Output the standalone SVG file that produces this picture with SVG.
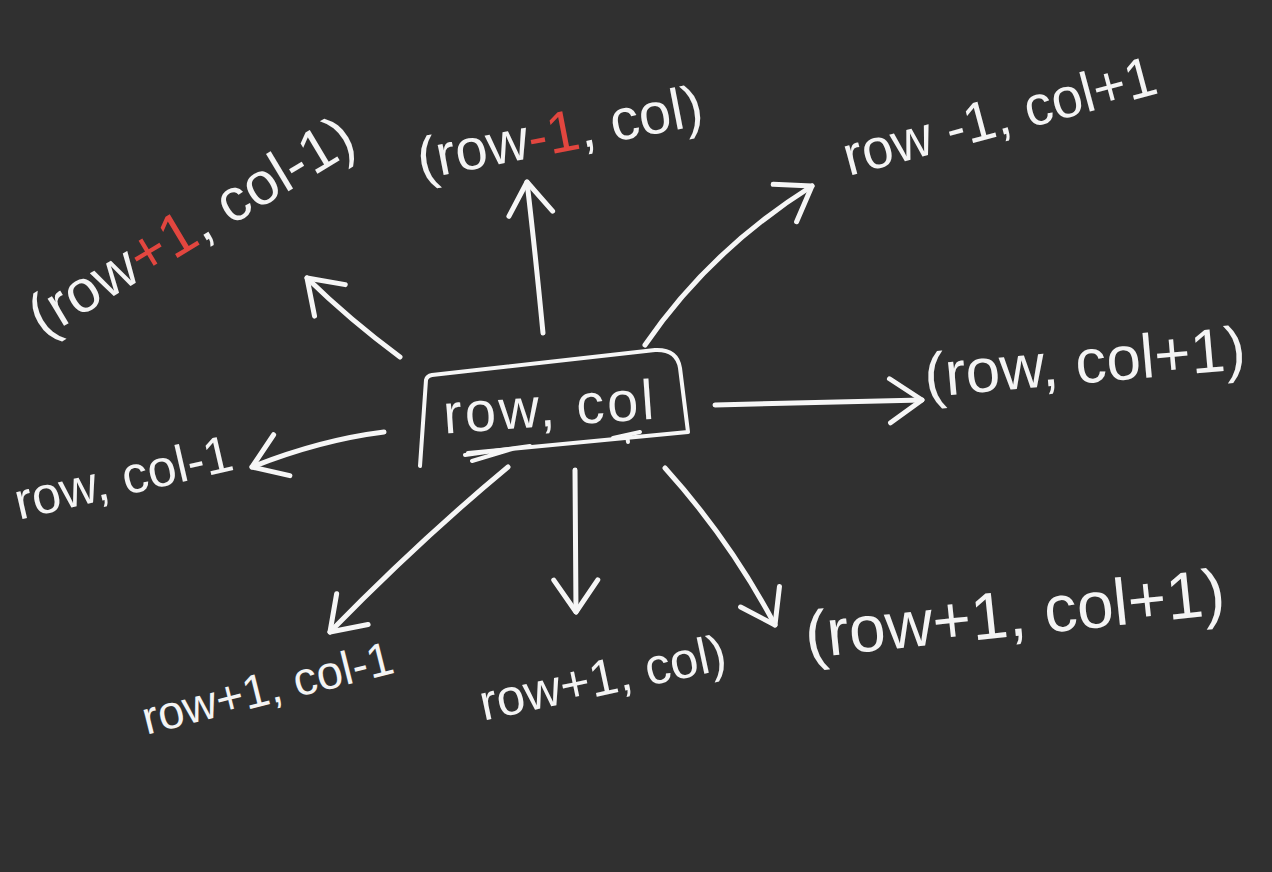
<svg xmlns="http://www.w3.org/2000/svg" width="1272" height="872" viewBox="0 0 1272 872">
  <style>
    .lbl { font-family: "Liberation Sans", "DejaVu Sans", sans-serif; fill: #f4f4f4; text-anchor: middle; }
    .hl { fill: #e2463f; }
    .conn { fill: none; stroke: #f6f6f6; stroke-width: 5; stroke-linecap: round; stroke-linejoin: round; marker-end: url(#head); }
    .box { fill: none; stroke: #f6f6f6; stroke-width: 4; stroke-linecap: round; stroke-linejoin: round; }
  </style>
  <defs>
    <marker id="head" markerUnits="userSpaceOnUse" markerWidth="50" markerHeight="60" viewBox="-40 -30 50 60" refX="0" refY="0" orient="auto" overflow="visible">
      <path d="M -32 -22 L 0 0 L -32 22" fill="none" stroke="#f6f6f6" stroke-width="5" stroke-linecap="round" stroke-linejoin="round"/>
    </marker>
  </defs>
  <rect x="0" y="0" width="1272" height="872" fill="#303030"/>

  <g id="connectors">
    <path class="conn" d="M 400 357 Q 350 320 307 278"/>
    <path class="conn" d="M 543 333 Q 535 250 527 182"/>
    <path class="conn" d="M 645 345 Q 710 250 812 186"/>
    <path class="conn" d="M 715 405 L 922 400"/>
    <path class="conn" d="M 384 432 Q 320 440 252 467"/>
    <path class="conn" d="M 508 467 Q 420 540 330 632"/>
    <path class="conn" d="M 575 470 L 576 612"/>
    <path class="conn" d="M 665 468 Q 730 540 775 625"/>
  </g>

  <g id="node-center">
    <path class="box" d="M 420 466 L 426 380 Q 427 376 432 375 L 655 350 Q 677 349 680 368 L 688 432 L 468 453"/>
    <path class="box" d="M 465 455 L 530 446 M 472 461 L 512 449" stroke-width="6"/>
    <path class="box" d="M 613 438 L 640 432 M 627 435 L 628 442" stroke-width="3"/>
    <text class="lbl" transform="translate(550 410) rotate(-4)" y="16" font-size="56" letter-spacing="3">row, col</text>
  </g>

  <g id="node-up-left">
    <text class="lbl" transform="translate(192 228) rotate(-31)" y="18" font-size="60">(row<tspan class="hl">+1</tspan>, col-1)</text>
  </g>

  <g id="node-up">
    <text class="lbl" transform="translate(560 135) rotate(-11)" y="17" font-size="58">(row<tspan class="hl">-1</tspan>, col)</text>
  </g>

  <g id="node-up-right">
    <text class="lbl" transform="translate(1000 118) rotate(-15)" y="17" font-size="56">row -1, col+1</text>
  </g>

  <g id="node-right">
    <text class="lbl" transform="translate(1085 365) rotate(-5)" y="18" font-size="62">(row, col+1)</text>
  </g>

  <g id="node-left">
    <text class="lbl" transform="translate(124 480) rotate(-13)" y="15" font-size="52">row, col-1</text>
  </g>

  <g id="node-down-left">
    <text class="lbl" transform="translate(268 690) rotate(-14)" y="14" font-size="47">row+1, col-1</text>
  </g>

  <g id="node-down">
    <text class="lbl" transform="translate(603 680) rotate(-12)" y="15" font-size="51">row+1, col)</text>
  </g>

  <g id="node-down-right">
    <text class="lbl" transform="translate(1015 617) rotate(-6)" y="19" font-size="66">(row+1, col+1)</text>
  </g>
</svg>
